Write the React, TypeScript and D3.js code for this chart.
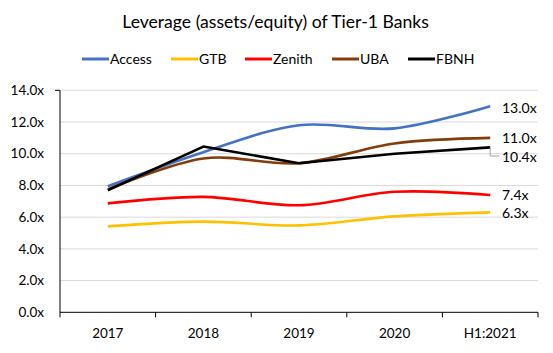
import React from "react";
import * as d3 from "d3";

const categories = ["2017", "2018", "2019", "2020", "H1:2021"];
const seriesNames = ["Access", "GTB", "Zenith", "UBA", "FBNH"];
const access = [7.95, 10.1, 11.8, 11.6, 13.0];
const gtb = [5.42, 5.72, 5.48, 6.05, 6.3];
const zenith = [6.87, 7.28, 6.75, 7.6, 7.4];
const uba = [7.75, 9.7, 9.4, 10.65, 11.0];
const fbnh = [7.7, 10.45, 9.4, 10.0, 10.4];
const yTicks = [0, 2, 4, 6, 8, 10, 12, 14];
const endLabels = ["13.0x", "6.3x", "7.4x", "11.0x", "10.4x"];

const colors = ["#4472C4", "#FFC000", "#FF0000", "#843C0C", "#000000"];
const smooth = [true, true, true, true, false];
const FONT = "Lato, 'Open Sans', sans-serif";

export default function App() {
  const W = 553, H = 353;
  const left = 60, right = 538, top = 90.3, bottom = 312.3;
  const x = d3.scaleBand<string>().domain(categories).range([left, right]);
  const y = d3.scaleLinear().domain([0, 14]).range([bottom, top]);
  const cx = (c: string) => (x(c) as number) + x.bandwidth() / 2;
  const data = [access, gtb, zenith, uba, fbnh];

  const labelY = [108, 213.5, 195.5, 138.5, 157];
  const lastX = cx(categories[categories.length - 1]);

  const legendX = [82, 171, 245, 332, 408];

  return (
    <svg width={W} height={H} style={{ position: "absolute", left: 0, top: 0, background: "#fff" }} fontFamily={FONT}>
      <text x={275.5} y={28} textAnchor="middle" fontSize={17.6} fill="#000">
        Leverage (assets/equity) of Tier-1 Banks
      </text>
      {seriesNames.map((n, i) => (
        <g key={n}>
          <line x1={legendX[i]} x2={legendX[i] + 27} y1={59} y2={59} stroke={colors[i]} strokeWidth={3} />
          <text x={legendX[i] + 28} y={59} dy="0.35em" fontSize={14} fill="#000">{n}</text>
        </g>
      ))}
      {yTicks.map((t) => (
        <g key={t}>
          {t > 0 && <line x1={left} x2={right} y1={y(t)} y2={y(t)} stroke="#d9d9d9" strokeWidth={1} />}
          <text x={44} y={y(t)} dy="0.35em" textAnchor="end" fontSize={13.5} fill="#000">
            {t.toFixed(1) + "x"}
          </text>
        </g>
      ))}
      <line x1={left} x2={left} y1={top} y2={bottom} stroke="#000" strokeWidth={1} />
      <line x1={left - 5} x2={left} y1={top} y2={top} stroke="#000" strokeWidth={1} />
      <line x1={left} x2={right} y1={bottom} y2={bottom} stroke="#000" strokeWidth={1} />
      {[...categories.map((c) => x(c) as number), right].map((tx, i) => (
        <line key={i} x1={tx} x2={tx} y1={bottom} y2={bottom + 5} stroke="#000" strokeWidth={1} />
      ))}
      {categories.map((c) => (
        <text key={c} x={cx(c)} y={333} dy="0.35em" textAnchor="middle" fontSize={13.5} fill="#000">{c}</text>
      ))}
      {data.map((vals, i) => {
        const gen = d3
          .line<number>()
          .x((_, j) => cx(categories[j]))
          .y((v) => y(v))
          .curve(smooth[i] ? d3.curveCardinal.tension(0) : d3.curveLinear);
        return (
          <path key={i} d={gen(vals) || ""} fill="none" stroke={colors[i]} strokeWidth={2.6} strokeLinejoin="round" />
        );
      })}
      <polyline
        points={`${lastX},${y(fbnh[4])} ${lastX},${labelY[4] - 1} ${lastX + 9},${labelY[4] - 1}`}
        fill="none"
        stroke="#a6a6a6"
        strokeWidth={1}
      />
      {endLabels.map((l, i) => (
        <text key={i} x={502} y={labelY[i]} dy="0.35em" fontSize={14} fill="#000">{l}</text>
      ))}
    </svg>
  );
}
